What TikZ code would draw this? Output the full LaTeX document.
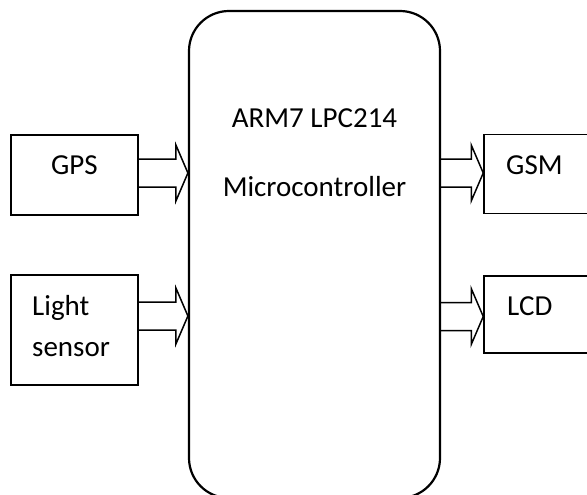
\documentclass[tikz,border=0pt]{standalone}
\usepackage{fontspec}
\setmainfont{Carlito}
\usetikzlibrary{calc}
\newcommand\blockarrow[2]{%
  \draw[flow] let \p1=(#1), \p2=(#2) in
    (\x1,\y1+14pt) -- (\x2-12pt,\y1+14pt) -- (\x2-12pt,\y1+28pt) -- (\x2,\y1)
    -- (\x2-12pt,\y1-28pt) -- (\x2-12pt,\y1-14pt) -- (\x1,\y1-14pt);}
\begin{document}
\begin{tikzpicture}[x=1pt,y=-1pt,
  box/.style={draw, line width=1.5pt, rectangle, inner sep=0pt},
  flow/.style={draw, line width=1.5pt, line join=miter},
  lbl/.style={font=\fontsize{29}{34}\selectfont, anchor=base, inner sep=0pt}]
\useasboundingbox (0,0) rectangle (587,495);
\clip (0,0) rectangle (587,495);
% boxes
\node[box, minimum width=127pt, minimum height=80pt] (gps) at (74.5,175) {};
\node[box, minimum width=127pt, minimum height=110pt] (light) at (74.5,330) {};
\node[box, rounded corners=40pt, line width=2.2pt, minimum width=251pt, minimum height=487pt] (mcu) at (314.5,254.5) {};
\node[box, minimum width=160pt, minimum height=79pt] (gsm) at (564,174) {};
\node[box, minimum width=160pt, minimum height=77pt] (lcd) at (564,314.5) {};
% arrow start points
\coordinate (g1) at (gps.east |- 0,173);
\coordinate (l1) at (light.east |- 0,316);
\coordinate (m1) at (mcu.east |- 0,173);
\coordinate (m2) at (mcu.east |- 0,316.5);
\blockarrow{g1}{mcu.west |- g1}
\blockarrow{l1}{mcu.west |- l1}
\blockarrow{m1}{gsm.west |- m1}
\blockarrow{m2}{lcd.west |- m2}
% labels
\node[lbl] (t1) at (314.5,128) {ARM7 LPC214};
\node[lbl] (t2) at (314.5,196) {Microcontroller};
\node[lbl] (t3) at (74.5,174) {GPS};
\node[lbl, anchor=base west] (t4) at (32,315) {Light};
\node[lbl, anchor=base west] (t5) at (32,356) {sensor};
\node[lbl, anchor=base west] (t6) at (506,175) {GSM};
\node[lbl, anchor=base west] (t7) at (507,315) {LCD};
\end{tikzpicture}
\end{document}
